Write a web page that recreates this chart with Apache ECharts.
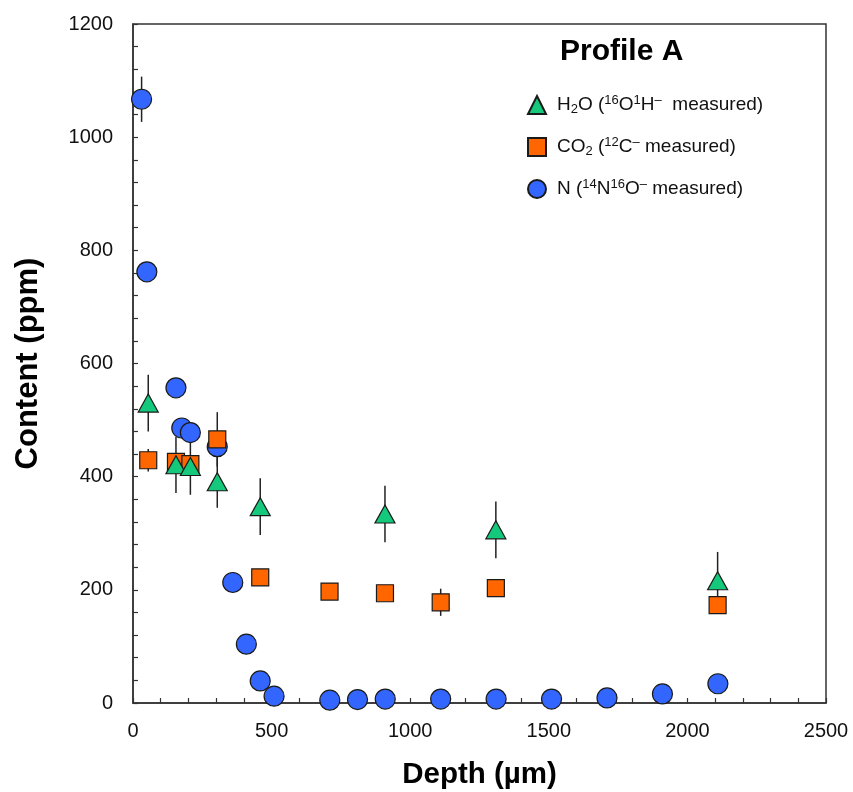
<!DOCTYPE html>
<html>
<head>
<meta charset="utf-8">
<script src="https://cdn.jsdelivr.net/npm/echarts@6/dist/echarts.min.js"></script>
<style>html,body{margin:0;padding:0;background:#fff}#c{width:853px;height:792px}</style>
</head>
<body>
<div id="c"></div>
<script>
// ---- data ----
var nDepth  = [31, 50, 155, 176, 207, 304, 360, 409, 459, 509, 710, 810, 910, 1110, 1310, 1510, 1710, 1910, 2110];
var nValue  = [1067, 762, 557, 486, 478, 453, 213, 104, 39, 12, 5, 6, 7, 7, 7, 7, 9, 16, 34];
var nErr    = [40, 0, 0, 0, 0, 0, 0, 0, 0, 0, 0, 0, 0, 0, 0, 0, 0, 0, 0];

var h2oDepth = [55, 155, 207, 304, 459, 909, 1309, 2109];
var h2oValue = [530, 421, 418, 391, 347, 334, 306, 216];
var h2oErr   = [50, 50, 50, 46, 50, 50, 50, 51];

var co2Depth = [55, 155, 207, 304, 459, 709, 909, 1110, 1309, 2109];
var co2Value = [429, 426, 422, 466, 222, 197, 194, 178, 203, 173];
var co2Err   = [20, 10, 10, 48, 10, 5, 5, 24, 10, 5];

var xTicks = [0, 500, 1000, 1500, 2000, 2500];
var yTicks = [0, 200, 400, 600, 800, 1000, 1200];

function pts(d, v) { return d.map(function (x, i) { return [x, v[i]]; }); }
function errPts(d, v, e) { return d.map(function (x, i) { return [x, v[i], e[i]]; }); }

var allErr = errPts(nDepth, nValue, nErr)
  .concat(errPts(h2oDepth, h2oValue, h2oErr))
  .concat(errPts(co2Depth, co2Value, co2Err))
  .filter(function (p) { return p[2] > 0; });

var font = '"Liberation Sans", Arial, sans-serif';
var chart = echarts.init(document.getElementById('c'), null, {renderer: 'canvas'});

var legendLabels = {
  'H2O': '{n|H}{sub|2}{n|O (}{sup|16}{n|O}{sup|1}{n|H}{sup|\u2013}{n|  measured)}',
  'CO2': '{n|CO}{sub|2}{n| (}{sup|12}{n|C}{sup|\u2013}{n| measured)}',
  'N':   '{n|N (}{sup|14}{n|N}{sup|16}{n|O}{sup|\u2013}{n| measured)}'
};

chart.setOption({
  animation: false,
  backgroundColor: '#fff',
  textStyle: {fontFamily: font},
  title: {
    text: 'Profile A',
    left: 555, top: 32,
    textStyle: {fontFamily: font, fontWeight: 'bold', fontSize: 30, color: '#000'}
  },
  legend: {
    orient: 'vertical',
    left: 527, top: 94, padding: 0,
    itemWidth: 18, itemHeight: 18,
    itemGap: 20,
    data: ['H2O', 'CO2', 'N'],
    formatter: function (name) { return legendLabels[name]; },
    textStyle: {
      fontFamily: font, color: '#111', padding: [0, 0, 0, 6],
      rich: {
        n:   {fontFamily: font, fontSize: 19, lineHeight: 22, color: '#111'},
        sup: {fontFamily: font, fontSize: 13, lineHeight: 14, verticalAlign: 'top', color: '#111'},
        sub: {fontFamily: font, fontSize: 13, lineHeight: 14, verticalAlign: 'bottom', color: '#111'}
      }
    }
  },
  grid: {
    left: 133, right: 27, top: 24, bottom: 89,
    outerBoundsMode: 'none', containLabel: false,
    show: true, borderColor: '#333', borderWidth: 1.5, backgroundColor: 'transparent'
  },
  xAxis: {
    type: 'value', min: xTicks[0], max: xTicks[xTicks.length - 1], interval: 500,
    name: 'Depth (\u00b5m)', nameLocation: 'middle', nameGap: 57,
    nameTextStyle: {fontFamily: font, fontWeight: 'bold', fontSize: 29.5, color: '#000'},
    axisLine: {show: true, onZero: false, lineStyle: {color: '#333', width: 1.5}},
    axisTick: {show: true, inside: true, length: 5, lineStyle: {color: '#333', width: 1.2}},
    minorTick: {show: true, splitNumber: 5, length: 5, lineStyle: {color: '#333', width: 1.2}},
    axisLabel: {fontFamily: font, fontSize: 20, color: '#111', margin: 18,
                formatter: function (v) { return String(v); }},
    splitLine: {show: false}
  },
  yAxis: {
    type: 'value', min: yTicks[0], max: yTicks[yTicks.length - 1], interval: 200,
    name: 'Content (ppm)', nameLocation: 'middle', nameGap: 89,
    nameTextStyle: {fontFamily: font, fontWeight: 'bold', fontSize: 31, color: '#000'},
    axisLine: {show: true, onZero: false, lineStyle: {color: '#333', width: 1.5}},
    axisTick: {show: true, inside: true, length: 5, lineStyle: {color: '#333', width: 1.2}},
    minorTick: {show: true, splitNumber: 5, length: 5, lineStyle: {color: '#333', width: 1.2}},
    axisLabel: {fontFamily: font, fontSize: 20, color: '#111', margin: 20,
                formatter: function (v) { return String(v); }},
    splitLine: {show: false}
  },
  series: [
    {
      type: 'custom', name: 'err', z: 1, silent: true,
      data: allErr,
      renderItem: function (params, api) {
        var x = api.value(0), y = api.value(1), e = api.value(2);
        var a = api.coord([x, y - e]), b = api.coord([x, y + e]);
        return {type: 'line', shape: {x1: a[0], y1: a[1], x2: b[0], y2: b[1]},
                style: {stroke: '#222', lineWidth: 1.5}};
      }
    },
    {
      type: 'scatter', name: 'N', z: 2, symbol: 'circle', symbolSize: 20,
      itemStyle: {color: '#3366ff', borderColor: '#1a1a1a', borderWidth: 1.2, opacity: 1},
      data: pts(nDepth, nValue)
    },
    {
      type: 'scatter', name: 'CO2', z: 3, symbol: 'rect', symbolSize: 17,
      itemStyle: {color: '#ff6600', borderColor: '#1a1a1a', borderWidth: 1.2, opacity: 1},
      data: pts(co2Depth, co2Value)
    },
    {
      type: 'scatter', name: 'H2O', z: 4, symbol: 'triangle', symbolSize: [20, 18],
      itemStyle: {color: '#14c97b', borderColor: '#1a1a1a', borderWidth: 1.2, opacity: 1},
      data: pts(h2oDepth, h2oValue)
    }
  ]
});
</script>
</body>
</html>
